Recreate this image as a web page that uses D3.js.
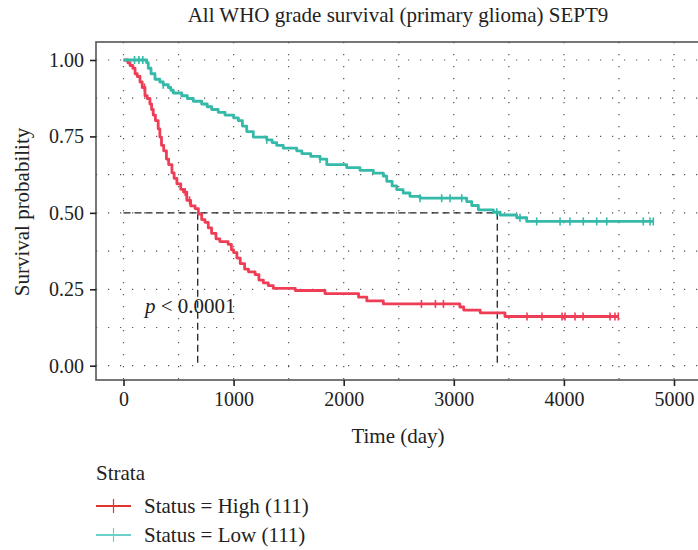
<!DOCTYPE html>
<html>
<head>
<meta charset="utf-8">
<script src="https://cdn.jsdelivr.net/npm/d3@7"></script>
<style>
  body { margin: 0; background: #fff; }
  svg text { font-family: "Liberation Serif", "DejaVu Serif", serif; fill: #222; }
</style>
</head>
<body>
<div id="chart-area"></div>
<script>
// Kaplan-Meier estimates
var highTime = [0, 40, 60, 85, 105, 125, 150, 170, 195, 215, 240, 255, 270, 290, 315, 330, 345, 365, 390, 410,
                440, 460, 485, 520, 545, 575, 610, 650, 680, 710, 740, 770, 800, 840, 875, 950, 980, 1000, 1030, 1060,
                1100, 1135, 1195, 1230, 1270, 1315, 1360, 1560, 1830, 2135, 2210, 2360, 3055, 3090, 3240, 3465, 4494];
var highSurv = [1, 0.991, 0.982, 0.973, 0.955, 0.946, 0.928, 0.910, 0.883, 0.874, 0.856, 0.838, 0.820, 0.802, 0.775, 0.748, 0.721, 0.703, 0.676, 0.658,
                0.631, 0.613, 0.595, 0.577, 0.568, 0.541, 0.523, 0.514, 0.496, 0.478, 0.469, 0.451, 0.433, 0.415, 0.406, 0.397, 0.379, 0.370, 0.352, 0.334,
                0.316, 0.307, 0.298, 0.280, 0.271, 0.262, 0.253, 0.246, 0.236, 0.224, 0.212, 0.202, 0.192, 0.182, 0.173, 0.161, 0.161];
var highCensor = [190, 560, 600, 2706, 2833, 2906, 3665, 3801, 3983, 4010, 4101, 4174, 4419, 4464, 4494];

var lowTime = [0, 210, 225, 250, 286, 330, 361, 407, 430, 452, 529, 580, 634, 710, 760, 801, 860, 922, 1000, 1043,
               1080, 1119, 1179, 1301, 1350, 1391, 1451, 1573, 1620, 1700, 1785, 1846, 2027, 2148, 2269, 2360, 2391, 2440, 2481, 2540,
               2602, 2693, 3117, 3163, 3223, 3359, 3420, 3571, 3662, 4812];
var lowSurv = [1, 0.991, 0.973, 0.955, 0.937, 0.928, 0.919, 0.910, 0.901, 0.892, 0.883, 0.874, 0.865, 0.856, 0.847, 0.838, 0.829, 0.820, 0.811, 0.802,
               0.784, 0.766, 0.748, 0.739, 0.730, 0.721, 0.712, 0.703, 0.694, 0.685, 0.676, 0.658, 0.648, 0.639, 0.630, 0.620, 0.603, 0.588, 0.576, 0.565,
               0.554, 0.548, 0.537, 0.524, 0.510, 0.502, 0.493, 0.484, 0.472, 0.472];
var lowCensor = [100, 140, 175, 361, 1301, 1785, 2693, 2890, 2966, 3072, 3390, 3601, 3753, 3965, 4055, 4176, 4298, 4389, 4721, 4782, 4812];

var strataNames = ["Status = High (111)", "Status = Low (111)"];
var medians = [674, 3395];
var xTicks = [0, 1000, 2000, 3000, 4000, 5000];
var yTicks = [0, 0.25, 0.5, 0.75, 1];

var lineColors = ["#ef3d56", "#35b9a9"];
var legendColors = ["#e2352c", "#6ccfca"];

var W = 698, H = 550;
var panel = { left: 96, right: 700, top: 42, bottom: 380 };

var svg = d3.select("#chart-area")
    .append("svg")
        .attr("width", W)
        .attr("height", H);

// scales
var x = d3.scaleLinear().domain([0, 5000]).range([123.5, 674]);
var y = d3.scaleLinear().domain([0, 1]).range([365.7, 60]);

// grid (major + minor, dotted)
var gridX = d3.range(0, 5001, 500);
var gridY = d3.range(0, 1.001, 0.125);
var grid = svg.append("g").attr("class", "grid");

grid.selectAll("line.gx")
    .data(gridX)
    .enter().append("line")
        .attr("class", "gx")
        .attr("x1", function(d){ return x(d); })
        .attr("x2", function(d){ return x(d); })
        .attr("y1", panel.top)
        .attr("y2", panel.bottom)
        .attr("stroke", "#555")
        .attr("stroke-width", 1.2)
        .attr("stroke-dasharray", "1.2,10.8");

grid.selectAll("line.gy")
    .data(gridY)
    .enter().append("line")
        .attr("class", "gy")
        .attr("x1", panel.left)
        .attr("x2", panel.right)
        .attr("y1", function(d){ return y(d); })
        .attr("y2", function(d){ return y(d); })
        .attr("stroke", "#555")
        .attr("stroke-width", 1.2)
        .attr("stroke-dasharray", "1.2,10.8");

// panel border
svg.append("rect")
    .attr("x", panel.left)
    .attr("y", panel.top)
    .attr("width", panel.right - panel.left)
    .attr("height", panel.bottom - panel.top)
    .attr("fill", "none")
    .attr("stroke", "#555")
    .attr("stroke-width", 1.6);

// median lines
var medG = svg.append("g").attr("class", "median");
medG.append("line")
    .attr("x1", x(0))
    .attr("x2", x(d3.max(medians)))
    .attr("y1", y(0.5))
    .attr("y2", y(0.5))
    .attr("stroke", "#222")
    .attr("stroke-width", 1.3)
    .attr("stroke-dasharray", "7,4");
medG.selectAll("line.mv")
    .data(medians)
    .enter().append("line")
        .attr("class", "mv")
        .attr("x1", function(d){ return x(d); })
        .attr("x2", function(d){ return x(d); })
        .attr("y1", y(0.5))
        .attr("y2", y(0))
        .attr("stroke", "#222")
        .attr("stroke-width", 1.3)
        .attr("stroke-dasharray", "7,4");

// survival curves
var series = [
    { time: highTime, surv: highSurv, censor: highCensor },
    { time: lowTime, surv: lowSurv, censor: lowCensor }
];

var line = d3.line()
    .x(function(d){ return x(d[0]); })
    .y(function(d){ return y(d[1]); })
    .curve(d3.curveStepAfter);

function survAt(s, t){
    var i = d3.bisectRight(s.time, t) - 1;
    return s.surv[Math.max(0, i)];
}

series.forEach(function(s, k){
    var pts = s.time.map(function(t, i){ return [t, s.surv[i]]; });
    svg.append("path")
        .datum(pts)
        .attr("d", line)
        .attr("fill", "none")
        .attr("stroke", lineColors[k])
        .attr("stroke-width", 2.8)
        .attr("stroke-linejoin", "round");

    svg.append("g").selectAll("line")
        .data(s.censor)
        .enter().append("line")
            .attr("x1", function(d){ return x(d); })
            .attr("x2", function(d){ return x(d); })
            .attr("y1", function(d){ return y(survAt(s, d)) - 4; })
            .attr("y2", function(d){ return y(survAt(s, d)) + 4; })
            .attr("stroke", lineColors[k])
            .attr("stroke-width", 1.6);
});

// axes
var xAxisCall = d3.axisBottom(x).tickValues(xTicks).tickSize(6).tickSizeOuter(0)
    .tickFormat(d3.format("d"));
var xAxisGroup = svg.append("g")
    .attr("transform", "translate(0," + panel.bottom + ")")
    .call(xAxisCall);
xAxisGroup.select(".domain").remove();
xAxisGroup.selectAll("line").attr("stroke", "#222").attr("stroke-width", 1.6);
xAxisGroup.selectAll("text")
    .attr("font-size", "20px")
    .attr("font-family", "Liberation Serif, serif")
    .attr("fill", "#222")
    .attr("y", 12);

var yAxisCall = d3.axisLeft(y).tickValues(yTicks).tickSize(6).tickSizeOuter(0)
    .tickFormat(d3.format(".2f"));
var yAxisGroup = svg.append("g")
    .attr("transform", "translate(" + panel.left + ",0)")
    .call(yAxisCall);
yAxisGroup.select(".domain").remove();
yAxisGroup.selectAll("line").attr("stroke", "#222").attr("stroke-width", 1.6);
yAxisGroup.selectAll("text")
    .attr("font-size", "20px")
    .attr("font-family", "Liberation Serif, serif")
    .attr("fill", "#222")
    .attr("x", -12);

// titles
svg.append("text")
    .attr("x", 398)
    .attr("y", 22)
    .attr("text-anchor", "middle")
    .attr("font-size", "21px")
    .text("All WHO grade survival (primary glioma) SEPT9");

svg.append("text")
    .attr("x", 398)
    .attr("y", 443)
    .attr("text-anchor", "middle")
    .attr("font-size", "21px")
    .text("Time (day)");

svg.append("text")
    .attr("transform", "translate(29," + 212 + ") rotate(-90)")
    .attr("text-anchor", "middle")
    .attr("font-size", "21px")
    .text("Survival probability");

// p value
var pText = svg.append("text")
    .attr("x", 145)
    .attr("y", 313)
    .attr("font-size", "21px");
pText.append("tspan").attr("font-style", "italic").text("p");
pText.append("tspan").text(" < 0.0001");

// legend
svg.append("text")
    .attr("x", 96)
    .attr("y", 480)
    .attr("font-size", "21px")
    .text("Strata");

var legend = svg.append("g").selectAll("g")
    .data(strataNames)
    .enter().append("g")
        .attr("transform", function(d, i){ return "translate(96," + (506 + i * 29) + ")"; });
legend.append("line")
    .attr("x1", 0).attr("x2", 35)
    .attr("stroke", function(d, i){ return legendColors[i]; })
    .attr("stroke-width", 2.2);
legend.append("line")
    .attr("x1", 17.5).attr("x2", 17.5)
    .attr("y1", -7).attr("y2", 7)
    .attr("stroke", function(d, i){ return legendColors[i]; })
    .attr("stroke-width", 1.2);
legend.append("text")
    .attr("x", 48)
    .attr("y", 7)
    .attr("font-size", "21px")
    .text(function(d){ return d; });
</script>
</body>
</html>
